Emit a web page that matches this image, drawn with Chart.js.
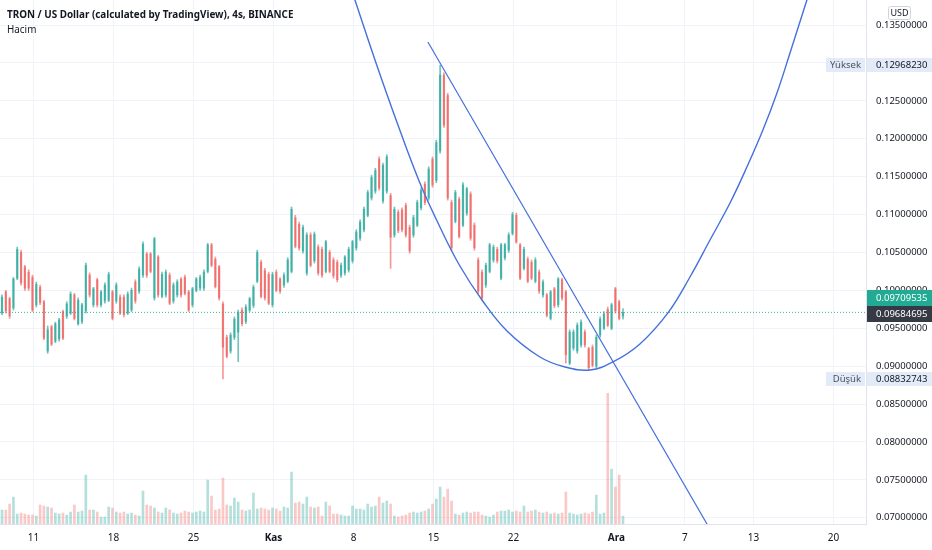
<!DOCTYPE html>
<html>
<head>
<meta charset="utf-8">
<script src="https://cdn.jsdelivr.net/npm/chart.js@4.4.1/dist/chart.umd.min.js"></script>
<style>
  html, body { margin: 0; padding: 0; background: #fff; }
  canvas { display: block; }
</style>
</head>
<body>
<canvas id="chartTrx" width="932" height="550"></canvas>
<script>
/* TRX/USD 4s - mumlar, hacim ve cizimler */

// zaman: ilk mum gunu (Ekim=gun 1..31, Kasim=32..61, Aralik=62..) ve mum araligi (gun)
const startDay = 8.245;
const stepDay = 1 / 3;

const opens = [
  0.0970,0.0998,0.0989,0.0977,0.1016,0.1050,0.1031,0.1024,0.1017,0.0981,
  0.1004,0.0985,0.0920,0.0952,0.0933,0.0936,0.0972,0.0966,0.0970,0.0994,
  0.0956,0.0959,0.0973,0.1020,0.0981,0.1014,0.0981,0.0986,0.0987,0.0998,
  0.0986,0.0991,0.0991,0.0970,0.0974,0.1011,0.0999,0.1020,0.1048,0.1048,
  0.0990,0.1044,0.0992,0.0994,0.1020,0.0986,0.0994,0.1015,0.1017,0.0998,
  0.0981,0.1000,0.1003,0.1003,0.1025,0.1060,0.1041,0.1031,0.0982,0.0938,
  0.0920,0.0938,0.0945,0.0974,0.0959,0.0974,0.0980,0.1012,0.1037,0.1026,
  0.1021,0.0981,0.1024,0.1015,0.1007,0.1012,0.1025,0.1096,0.1087,0.1052,
  0.1023,0.1073,0.1039,0.1057,0.1054,0.1025,0.1050,0.1040,0.1037,0.1020,
  0.1023,0.1027,0.1039,0.1056,0.1069,0.1080,0.1099,0.1122,0.1131,0.1173,
  0.1118,0.1131,0.1125,0.1073,0.1103,0.1106,0.1112,0.1083,0.1073,0.1086,
  0.1109,0.1140,0.1122,0.1173,0.1145,0.1184,0.1284,0.1257,0.1116,0.1091,
  0.1120,0.1086,0.1102,0.1127,0.1086,0.1040,0.1024,0.1007,0.1025,0.1040,
  0.1054,0.1016,0.1043,0.1053,0.1075,0.1099,0.1060,0.1029,0.1041,0.1037,
  0.1012,0.1024,0.0994,0.0994,0.0963,0.1002,0.0981,0.1014,0.0998,0.0904,
  0.0924,0.0920,0.0928,0.0945,0.0923,0.0925,0.0900,0.0941,0.0950,0.0975,
  0.0950,0.1002,0.0985,0.0966
];
const highs = [
  0.0994,0.1000,0.0991,0.1017,0.1057,0.1053,0.1033,0.1027,0.1020,0.1011,
  0.1007,0.0987,0.0953,0.0954,0.0958,0.0963,0.0974,0.0985,0.0998,0.0996,
  0.0990,0.0983,0.1036,0.1023,0.1004,0.1016,0.1000,0.1010,0.1024,0.1000,
  0.1010,0.0994,0.0994,0.0998,0.1003,0.1014,0.1031,0.1064,0.1050,0.1050,
  0.1070,0.1046,0.1024,0.1027,0.1023,0.1010,0.1014,0.1017,0.1020,0.1000,
  0.1004,0.1017,0.1020,0.1027,0.1062,0.1062,0.1044,0.1033,0.0985,0.0941,
  0.0944,0.0965,0.0974,0.0977,0.0981,0.0991,0.1007,0.1053,0.1040,0.1029,
  0.1024,0.1024,0.1027,0.1017,0.1023,0.1043,0.1110,0.1099,0.1090,0.1086,
  0.1076,0.1076,0.1077,0.1060,0.1057,0.1066,0.1053,0.1043,0.1040,0.1036,
  0.1046,0.1057,0.1066,0.1080,0.1093,0.1110,0.1132,0.1152,0.1161,0.1176,
  0.1168,0.1179,0.1128,0.1110,0.1106,0.1109,0.1115,0.1086,0.1099,0.1119,
  0.1135,0.1143,0.1163,0.1176,0.1198,0.12968230,0.1287,0.1260,0.1119,0.1132,
  0.1123,0.1142,0.1136,0.1130,0.1089,0.1043,0.1027,0.1036,0.1062,0.1060,
  0.1057,0.1062,0.1062,0.1076,0.1103,0.1102,0.1062,0.1057,0.1044,0.1040,
  0.1043,0.1027,0.1014,0.0996,0.1000,0.1004,0.1017,0.1016,0.1000,0.0948,
  0.0948,0.0957,0.0961,0.0948,0.0925,0.0928,0.0941,0.0965,0.0972,0.0978,
  0.0983,0.1004,0.0987,0.0976
];
const lows = [
  0.0968,0.0970,0.0963,0.0974,0.1014,0.1007,0.1000,0.1000,0.0972,0.0978,
  0.0981,0.0935,0.0917,0.0927,0.0931,0.0933,0.0935,0.0963,0.0968,0.0961,
  0.0954,0.0956,0.0970,0.0991,0.0978,0.0978,0.0978,0.0983,0.0985,0.0961,
  0.0983,0.0968,0.0965,0.0968,0.0972,0.0983,0.0996,0.1017,0.1017,0.1023,
  0.0987,0.0991,0.0990,0.0991,0.0981,0.0983,0.0991,0.0991,0.0994,0.0972,
  0.0978,0.0998,0.1000,0.1000,0.1023,0.1031,0.1003,0.0987,0.08832743,0.0911,
  0.0917,0.0935,0.0906,0.0953,0.0956,0.0972,0.0977,0.1010,0.0990,0.0987,
  0.0981,0.0978,0.0998,0.0996,0.1004,0.1010,0.1023,0.1056,0.1053,0.1049,
  0.1020,0.1031,0.1036,0.1020,0.1017,0.1023,0.1023,0.1016,0.1011,0.1017,
  0.1020,0.1024,0.1036,0.1053,0.1066,0.1077,0.1097,0.1119,0.1128,0.1132,
  0.1115,0.1128,0.1029,0.1070,0.1076,0.1077,0.1070,0.1049,0.1070,0.1084,
  0.1106,0.1113,0.1119,0.1136,0.1142,0.1181,0.1215,0.1119,0.1053,0.1089,
  0.1069,0.1084,0.1099,0.1066,0.1053,0.0996,0.0987,0.1004,0.1023,0.1037,
  0.1036,0.1014,0.1040,0.1050,0.1073,0.1062,0.1014,0.1027,0.1010,0.1014,
  0.1010,0.0996,0.0991,0.0965,0.0961,0.0977,0.0978,0.0987,0.0904,0.0902,
  0.0921,0.0917,0.0925,0.0925,0.0895,0.0899,0.0898,0.0938,0.0948,0.0952,
  0.0948,0.0970,0.0961,0.0962
];
const closes = [
  0.0991,0.0973,0.0966,0.1015,0.1054,0.1010,0.1003,0.1003,0.0974,0.1008,
  0.0984,0.0937,0.0948,0.0929,0.0956,0.0961,0.0937,0.0982,0.0995,0.0963,
  0.0987,0.0981,0.1033,0.0994,0.1002,0.0981,0.0998,0.1007,0.1021,0.0963,
  0.1007,0.0970,0.0968,0.0995,0.1000,0.0986,0.1028,0.1061,0.1020,0.1025,
  0.1068,0.0994,0.1021,0.1024,0.0983,0.1007,0.1011,0.0994,0.0996,0.0974,
  0.1002,0.1015,0.1017,0.1024,0.1060,0.1033,0.1005,0.0990,0.0925,0.0913,
  0.0941,0.0962,0.0971,0.0956,0.0978,0.0989,0.1004,0.1050,0.0992,0.0990,
  0.0983,0.1021,0.1000,0.0999,0.1020,0.1040,0.1107,0.1058,0.1056,0.1083,
  0.1073,0.1033,0.1074,0.1023,0.1020,0.1064,0.1025,0.1019,0.1014,0.1033,
  0.1044,0.1054,0.1064,0.1077,0.1090,0.1107,0.1129,0.1149,0.1158,0.1135,
  0.1165,0.1176,0.1070,0.1107,0.1079,0.1080,0.1073,0.1052,0.1096,0.1116,
  0.1132,0.1116,0.1160,0.1139,0.1195,0.1284,0.1218,0.1122,0.1056,0.1129,
  0.1071,0.1139,0.1134,0.1069,0.1056,0.0999,0.0990,0.1033,0.1060,0.1057,
  0.1039,0.1060,0.1060,0.1073,0.1100,0.1064,0.1016,0.1054,0.1012,0.1016,
  0.1040,0.0999,0.1011,0.0967,0.0998,0.0980,0.1015,0.0990,0.0915,0.0945,
  0.0945,0.0954,0.0958,0.0928,0.0898,0.0901,0.0938,0.0962,0.0969,0.0954,
  0.0981,0.0973,0.0963,0.09709535
];
// hacim (milyon TRX)
const volumes = [
  84,84,120,162,60,66,60,54,54,48,
  114,108,102,96,66,60,66,54,72,114,
  72,78,294,84,84,72,42,42,102,96,
  72,66,72,60,66,54,48,198,114,108,
  96,72,66,96,84,66,60,66,78,72,
  66,72,78,72,264,168,84,90,276,114,
  108,156,132,84,78,84,186,90,96,90,
  84,96,90,78,102,96,312,126,132,120,
  162,102,96,102,48,132,108,60,60,54,
  48,48,108,90,90,84,120,102,108,162,
  126,138,120,48,42,48,54,66,72,66,
  72,78,90,120,150,222,162,210,138,60,
  54,66,72,66,72,72,54,48,42,54,
  72,78,78,84,72,78,72,108,72,78,
  84,72,66,72,60,66,60,66,192,66,
  60,54,60,66,60,72,174,60,66,786,
  330,222,294,48
];

// fiyat ekseni ve zaman ekseni
const priceTicks = [0.070,0.075,0.080,0.085,0.090,0.095,0.100,0.105,0.110,0.115,0.120,0.125,0.130,0.135];
const dayTicks = [11, 18, 25, 32, 39, 46, 53, 62, 68, 74, 81];
const dayLabels = ['11', '18', '25', 'Kas', '8', '15', '22', 'Ara', '7', '13', '20'];

// cizimler: trend cizgisi ve kase egrisi (gun, fiyat)
const trendDays = [45.51, 70.15];
const trendPrices = [0.13276, 0.0686];
const curveDays = [
  38.69, 40.88, 42.89, 44.81, 46.56, 48.31, 50.24, 52.43, 55.31, 57.50, 59.69, 61.70,
  64.06, 66.51, 68.44, 70.19, 71.94, 73.42, 74.82, 76.05, 77.19, 78.67, 79.11
];
const curvePrices = [
  0.14028, 0.13039, 0.12181, 0.11416, 0.10836, 0.10321, 0.09873, 0.09464, 0.09121, 0.08989, 0.08950, 0.09055,
  0.09293, 0.09702, 0.10176, 0.10664, 0.11152, 0.11627, 0.12115, 0.12603, 0.13131, 0.13830, 0.14028
];

// etiketler
const highLabel = 0.12968230;
const lowLabel = 0.08832743;
const lastPrice = 0.09709535;
const otherPrice = 0.09684695;

const xMin = 8.07, xMax = 83.84;
const yMin = 0.06918, yMax = 0.13830;

const FONT = '"Noto Sans", "Open Sans", sans-serif';
const upCol = 'rgba(38,166,154,0.66)', downCol = 'rgba(239,83,80,0.6)';
const upVol = 'rgba(38,166,154,0.35)', downVol = 'rgba(239,83,80,0.32)';

let times = opens.map((_, i) => startDay + i * stepDay);
let isUp = opens.map((o, i) => closes[i] >= o);

let wicks = [], bodies = [], vols = [];
for (i = 0; i < opens.length; i++) {
  wicks.push({ x: times[i], y: [lows[i], highs[i]] });
  bodies.push({ x: times[i], y: [opens[i], closes[i]] });
  vols.push({ x: times[i], y: volumes[i] });
}

// eksenlerin kenar boslugunu sifirla
const noPad = (s) => {
  s.paddingTop = 0; s.paddingBottom = 0; s.paddingLeft = 0; s.paddingRight = 0;
};

const labelsPlugin = {
  id: 'tvLabels',
  afterDraw(chart) {
    const c = chart.ctx;
    const y = chart.scales.y;
    const right = chart.chartArea.right;
    c.save();
    // baslik
    c.fillStyle = '#131722';
    c.textBaseline = 'middle';
    c.textAlign = 'left';
    c.font = 'bold 9.9px ' + FONT;
    c.fillText('TRON / US Dollar (calculated by TradingView), 4s, BINANCE', 7, 15);
    c.font = '9.9px ' + FONT;
    c.fillText('Hacim', 7, 30);

    // USD kutusu
    c.strokeStyle = '#d1d4dc';
    c.lineWidth = 1;
    c.beginPath();
    c.roundRect(888.5, 6.5, 22, 13, 2);
    c.stroke();
    c.font = '9px ' + FONT;
    c.textAlign = 'center';
    c.fillText('USD', 899.5, 13);

    // Yuksek / Dusuk
    const tag = (txt, val) => {
      const py = Math.round(y.getPixelForValue(val));
      c.fillStyle = '#e3ebf9';
      c.fillRect(right - 40, py - 7, 39, 14);
      c.fillRect(right + 1, py - 7, 65, 14);
      c.fillStyle = '#4a4f5c';
      c.font = '9.5px ' + FONT;
      c.textAlign = 'right';
      c.fillText(txt, right - 5, py);
      c.fillStyle = '#131722';
      c.textAlign = 'left';
      c.fillText(val.toFixed(8), right + 10, py);
    };
    tag('Yüksek', highLabel);
    tag('Düşük', lowLabel);

    // fiyat rozetleri
    const badge = (val, bg, dy) => {
      const py = Math.round(y.getPixelForValue(val)) + dy;
      c.fillStyle = bg;
      c.fillRect(right + 1, py - 8, 65, 16);
      c.fillStyle = '#ffffff';
      c.font = '9.5px ' + FONT;
      c.textAlign = 'left';
      c.fillText(val.toFixed(8), right + 10, py);
    };
    badge(otherPrice, '#363a45', 0);
    badge(lastPrice, '#22ab94', -14);
    c.restore();
  },
};

const ctx = document.getElementById('chartTrx').getContext('2d');
const myChart = new Chart(ctx, {
  type: 'bar',
  plugins: [labelsPlugin],
  data: {
    datasets: [
      {
        type: 'line',
        data: curveDays.map((d, i) => ({ x: d, y: curvePrices[i] })),
        borderColor: '#4570dc',
        borderWidth: 1.4,
        pointRadius: 0,
        tension: 0.4,
        order: 0,
      },
      {
        type: 'line',
        data: trendDays.map((d, i) => ({ x: d, y: trendPrices[i] })),
        borderColor: '#4570dc',
        borderWidth: 1.2,
        pointRadius: 0,
        order: 0,
      },
      {
        type: 'line',
        data: [{ x: xMin, y: lastPrice }, { x: xMax, y: lastPrice }],
        borderColor: 'rgba(34,171,148,0.9)',
        borderWidth: 1,
        borderDash: [1, 2],
        pointRadius: 0,
        order: 1,
      },
      {
        data: wicks,
        backgroundColor: isUp.map((u) => (u ? upCol : downCol)),
        barThickness: 1,
        order: 2,
      },
      {
        data: bodies,
        backgroundColor: isUp.map((u) => (u ? upCol : downCol)),
        barThickness: 1.6,
        order: 2,
      },
      {
        data: vols,
        yAxisID: 'vol',
        backgroundColor: isUp.map((u) => (u ? upVol : downVol)),
        barThickness: 2,
        order: 3,
      },
    ],
  },
  options: {
    responsive: false,
    animation: false,
    devicePixelRatio: 1,
    layout: { padding: 0 },
    datasets: { bar: { grouped: false } },
    plugins: {
      legend: { display: false },
      tooltip: { enabled: false },
    },
    scales: {
      x: {
        type: 'linear',
        offset: false,
        min: xMin,
        max: xMax,
        afterFit: (s) => { s.height = 26; noPad(s); },
        afterBuildTicks: (s) => { s.ticks = dayTicks.map((v) => ({ value: v })); },
        grid: { color: '#f0f3fa', drawTicks: false, offset: false },
        border: { color: '#e0e3eb' },
        ticks: {
          padding: 8,
          maxRotation: 0,
          autoSkip: false,
          color: '#131722',
          callback: (v, i) => dayLabels[i],
          font: (c) => ({
            family: FONT,
            size: 10,
            weight: /[A-Za-z]/.test(dayLabels[c.index] || '') ? 'bold' : 'normal',
          }),
        },
      },
      y: {
        position: 'right',
        min: yMin,
        max: yMax,
        afterFit: (s) => { s.width = 66; noPad(s); },
        afterBuildTicks: (s) => { s.ticks = priceTicks.map((v) => ({ value: v })); },
        grid: { color: '#f0f3fa', drawTicks: false },
        border: { color: '#e0e3eb' },
        ticks: {
          padding: 10,
          color: '#131722',
          font: { family: FONT, size: 9.5 },
          callback: (v) => v.toFixed(8),
        },
      },
      vol: {
        display: false,
        min: 0,
        max: 3150,
        afterFit: noPad,
      },
    },
  },
});
</script>
</body>
</html>
